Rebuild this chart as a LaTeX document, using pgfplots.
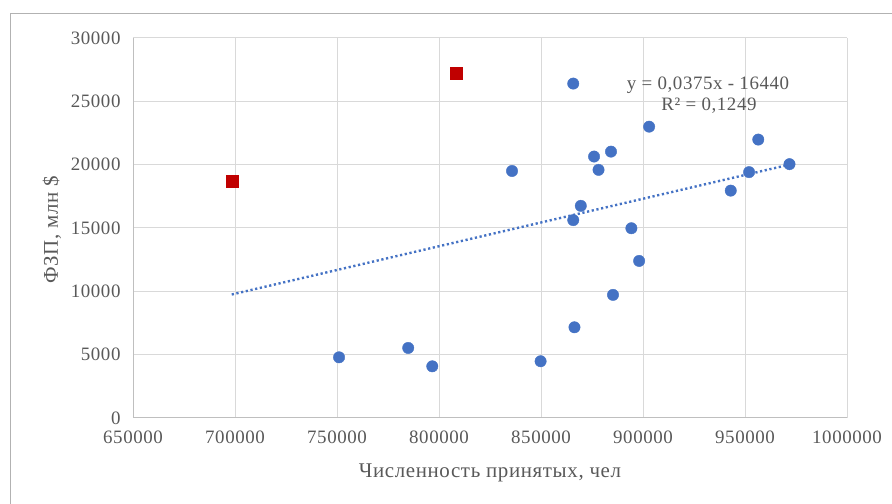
\documentclass[border=0pt]{standalone}
\usepackage{fontspec}
\setmainfont[LetterSpace=3]{Liberation Serif}
\usepackage{pgfplots}
\pgfplotsset{compat=1.18}
\definecolor{exblue}{HTML}{4472C4}
\definecolor{exred}{HTML}{C00000}
\definecolor{txt}{HTML}{595959}
\definecolor{gridc}{HTML}{D9D9D9}
\definecolor{axln}{HTML}{BFBFBF}

\pgfplotstableread{
x y
865800 26400
835800 19500
903000 23000
876000 20640
884300 21030
878200 19590
956500 21980
971800 20040
952000 19410
943000 17950
869500 16750
865800 15620
894300 14980
898100 12400
885300 9720
866400 7160
849800 4480
751000 4790
784900 5530
796700 4080
}\bluepts

\pgfplotstableread{
x y
808600 27250
698600 18720
}\redpts

\begin{document}
\begin{tikzpicture}[x=1bp,y=1bp]
\useasboundingbox (0,0) rectangle (892,504);
\draw[gray!60, line width=1bp] (10,-5) -- (10,490) -- (900,490);
\begin{axis}[
  at={(133bp,86bp)}, anchor=south west,
  width=714bp, height=380bp, scale only axis,
  xmin=650000, xmax=1000000, ymin=0, ymax=30000,
  xtick={650000,700000,...,1000000},
  ytick={0,5000,...,30000},
  scaled ticks=false,
  /pgf/number format/.cd, fixed, precision=0, 1000 sep={}, assume math mode=true, /pgfplots/.cd,
  grid=major,
  major grid style={gridc, line width=1bp},
  axis lines*=left,
  axis line style={axln, line width=1bp},
  major tick length=0pt,
  tick label style={font=\fontsize{19}{22}\selectfont, text=txt},
  xticklabel style={yshift=-9bp},
  yticklabel style={xshift=-9bp},
  clip=false,
]
\addplot[exblue, line width=2.4bp, dash pattern=on 2.2bp off 2.6bp]
  coordinates {(698400,9750) (971500,19991)};
\addplot[only marks, mark=*, mark size=5.7bp, exblue] table {\bluepts};
\addplot[only marks, mark=square*, mark size=6bp, exred] table {\redpts};
\end{axis}
\node[text=txt, font=\fontsize{21}{24}\selectfont] at (490,31) {Численность принятых, чел};
\node[text=txt, font=\fontsize{21}{24}\selectfont, rotate=90] at (52,274) {ФЗП, млн \$};
\node[text=txt, font=\fontsize{19}{22}\selectfont] at (708,419) {y = 0,0375x - 16440};
\node[text=txt, font=\fontsize{19}{22}\selectfont] at (709,398) {R² = 0,1249};
\end{tikzpicture}
\end{document}
